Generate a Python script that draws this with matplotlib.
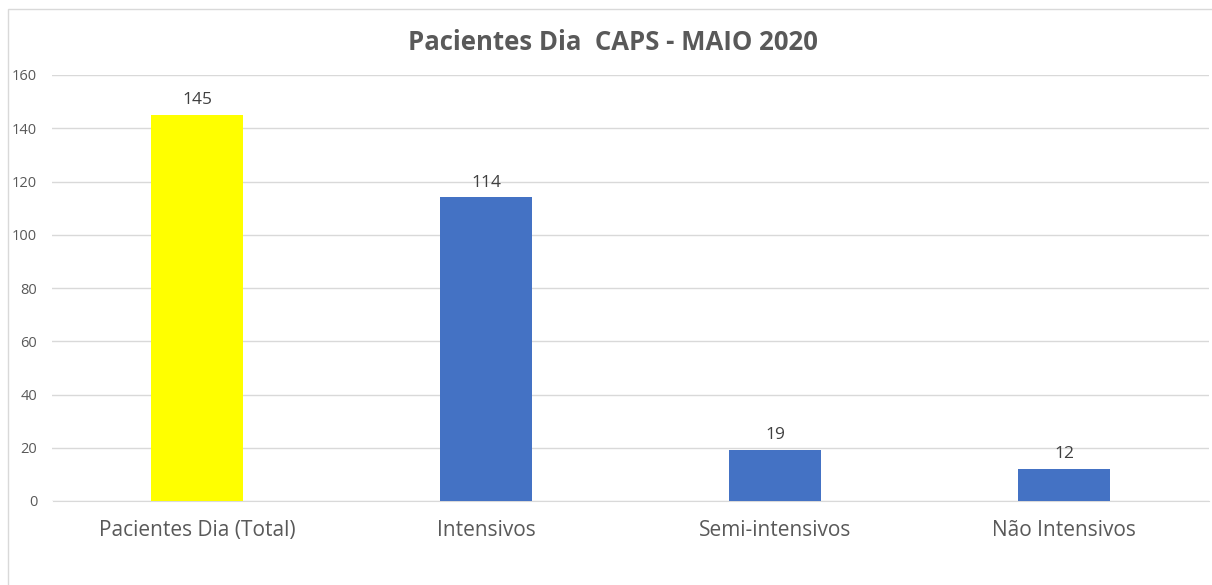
import matplotlib
matplotlib.use("Agg")
import matplotlib.pyplot as plt
from matplotlib.patches import Rectangle

categories = ["Pacientes Dia (Total)", "Intensivos", "Semi-intensivos", "Não Intensivos"]
values = [145, 114, 19, 12]
colors = ["#FFFF00", "#4472C4", "#4472C4", "#4472C4"]
yticks = [0, 20, 40, 60, 80, 100, 120, 140, 160]

plt.rcParams['font.family'] = ['Open Sans', 'DejaVu Sans']

W, H = 1212, 585
fig = plt.figure(figsize=(W / 100, H / 100), dpi=100)
ax = fig.add_axes([52.5 / W, 1 - 501 / H, (1208.5 - 52.5) / W, (501 - 75) / H])

x = list(range(len(categories)))
bars = ax.bar(x, values, width=0.318, color=colors, zorder=3)
for xi, v in zip(x, values):
    ax.annotate(str(v), (xi, v), xytext=(0, 5), textcoords="offset points",
                ha="center", va="bottom", fontsize=12.5, color="#404040")

ax.set_xlim(-0.5, len(categories) - 0.5)
ax.set_ylim(0, 160)
ax.set_yticks(yticks)
ax.set_yticklabels([str(t) for t in yticks], fontsize=10.5, color="#595959")
ax.set_xticks(x)
ax.set_xticklabels(categories, fontsize=15, color="#595959")
ax.tick_params(axis="both", length=0)
ax.tick_params(axis="x", pad=14)
ax.tick_params(axis="y", pad=11)
ax.grid(axis="y", color="#D9D9D9", linewidth=1, zorder=0)
for s in ["top", "right", "left"]:
    ax.spines[s].set_visible(False)
ax.spines["bottom"].set_color("#D9D9D9")

fig.text(613 / W, 1 - 42 / H, "Pacientes Dia  CAPS - MAIO 2020", ha="center", va="center",
         fontsize=18.5, fontweight="bold", color="#595959")

fig.patches.append(Rectangle((8 / W, -0.1), 1.1, 1 - 9 / H + 0.1, transform=fig.transFigure,
                             fill=False, edgecolor="#D9D9D9", linewidth=1))

fig.savefig("out.png", dpi=100, facecolor="white")
